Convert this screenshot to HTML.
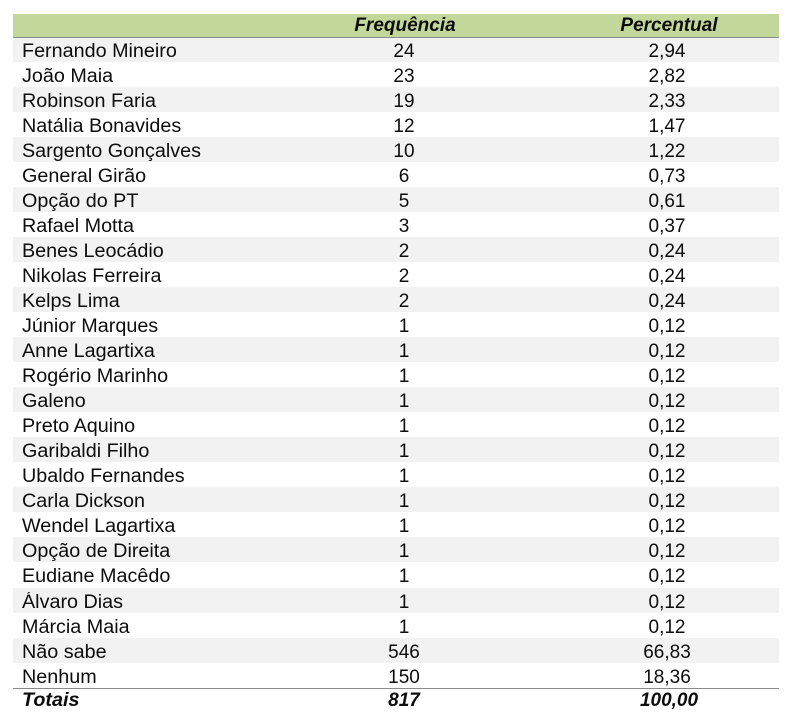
<!DOCTYPE html>
<html>
<head>
<meta charset="utf-8">
<style>
  html, body { margin:0; padding:0; background:#ffffff; }
  body { width:790px; height:722px; position:relative; overflow:hidden;
         font-family:"Liberation Sans", Arial, sans-serif; color:#0d0d0d; }
  .hdr { position:absolute; left:13px; top:14px; width:766px; height:23px; background:#c4d79b; }
  .hline { position:absolute; left:13px; width:766px; height:1px; background:#8a8a8a; }
  .row { position:absolute; left:13px; width:766px; height:25px; }
  .row.s { background:#f2f2f2; }
  .t { position:absolute; top:1.5px; line-height:25px; font-size:19px; white-space:nowrap; }
  .n { left:9px; transform:scaleX(1.04); transform-origin:left center; }
  .f { left:341px; width:100px; text-align:center; }
  .p { left:604px; width:100px; text-align:center; }
  .bi { font-weight:bold; font-style:italic; }
  .ht { position:absolute; top:13px; line-height:25px; font-size:19px; font-weight:bold; font-style:italic; white-space:nowrap; text-align:center; width:160px; }
</style>
</head>
<body>
<div class="hdr"></div>
<div class="ht" style="left:325px;">Frequência</div>
<div class="ht" style="left:589px;">Percentual</div>

<div class="row s" style="top:37px;"><span class="t n">Fernando Mineiro</span><span class="t f">24</span><span class="t p">2,94</span></div>
<div class="row" style="top:62px;"><span class="t n">João Maia</span><span class="t f">23</span><span class="t p">2,82</span></div>
<div class="row s" style="top:87px;"><span class="t n">Robinson Faria</span><span class="t f">19</span><span class="t p">2,33</span></div>
<div class="row" style="top:112px;"><span class="t n">Natália Bonavides</span><span class="t f">12</span><span class="t p">1,47</span></div>
<div class="row s" style="top:137px;"><span class="t n">Sargento Gonçalves</span><span class="t f">10</span><span class="t p">1,22</span></div>
<div class="row" style="top:162px;"><span class="t n">General Girão</span><span class="t f">6</span><span class="t p">0,73</span></div>
<div class="row s" style="top:187px;"><span class="t n">Opção do PT</span><span class="t f">5</span><span class="t p">0,61</span></div>
<div class="row" style="top:212px;"><span class="t n">Rafael Motta</span><span class="t f">3</span><span class="t p">0,37</span></div>
<div class="row s" style="top:237px;"><span class="t n">Benes Leocádio</span><span class="t f">2</span><span class="t p">0,24</span></div>
<div class="row" style="top:262px;"><span class="t n">Nikolas Ferreira</span><span class="t f">2</span><span class="t p">0,24</span></div>
<div class="row s" style="top:287px;"><span class="t n">Kelps Lima</span><span class="t f">2</span><span class="t p">0,24</span></div>
<div class="row" style="top:312px;"><span class="t n">Júnior Marques</span><span class="t f">1</span><span class="t p">0,12</span></div>
<div class="row s" style="top:337px;"><span class="t n">Anne Lagartixa</span><span class="t f">1</span><span class="t p">0,12</span></div>
<div class="row" style="top:362px;"><span class="t n">Rogério Marinho</span><span class="t f">1</span><span class="t p">0,12</span></div>
<div class="row s" style="top:387px;"><span class="t n">Galeno</span><span class="t f">1</span><span class="t p">0,12</span></div>
<div class="row" style="top:412px;"><span class="t n">Preto Aquino</span><span class="t f">1</span><span class="t p">0,12</span></div>
<div class="row s" style="top:437px;"><span class="t n">Garibaldi Filho</span><span class="t f">1</span><span class="t p">0,12</span></div>
<div class="row" style="top:462px;"><span class="t n">Ubaldo Fernandes</span><span class="t f">1</span><span class="t p">0,12</span></div>
<div class="row s" style="top:487px;"><span class="t n">Carla Dickson</span><span class="t f">1</span><span class="t p">0,12</span></div>
<div class="row" style="top:512px;"><span class="t n">Wendel Lagartixa</span><span class="t f">1</span><span class="t p">0,12</span></div>
<div class="row s" style="top:537px;"><span class="t n">Opção de Direita</span><span class="t f">1</span><span class="t p">0,12</span></div>
<div class="row" style="top:562px;"><span class="t n">Eudiane Macêdo</span><span class="t f">1</span><span class="t p">0,12</span></div>
<div class="row s" style="top:588px;"><span class="t n">Álvaro Dias</span><span class="t f">1</span><span class="t p">0,12</span></div>
<div class="row" style="top:613px;"><span class="t n">Márcia Maia</span><span class="t f">1</span><span class="t p">0,12</span></div>
<div class="row s" style="top:638px;"><span class="t n">Não sabe</span><span class="t f">546</span><span class="t p">66,83</span></div>
<div class="row" style="top:663px;"><span class="t n">Nenhum</span><span class="t f">150</span><span class="t p">18,36</span></div>

<div class="hline" style="top:37px;"></div>
<div class="hline" style="top:688px;"></div>

<div class="row" style="top:686px;"><span class="t n bi">Totais</span><span class="t f bi">817</span><span class="t p bi" style="left:606px;">100,00</span></div>
</body>
</html>
